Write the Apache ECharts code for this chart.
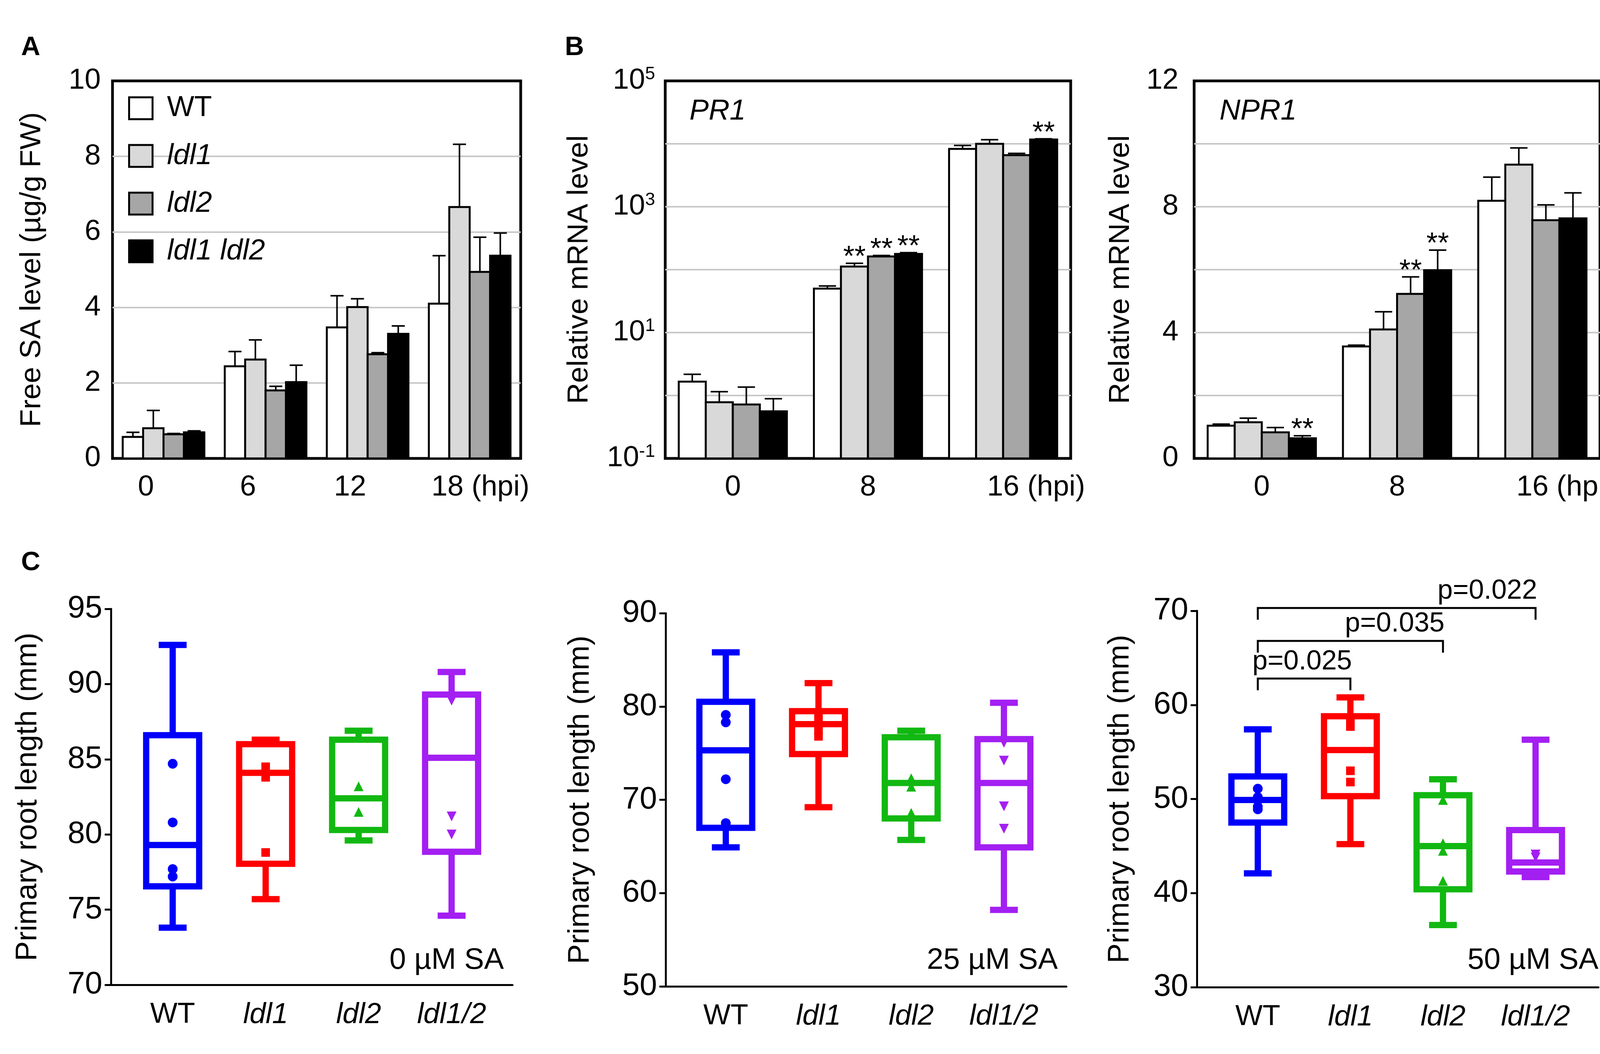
<!DOCTYPE html>
<html>
<head>
<meta charset="utf-8">
<script src="https://cdn.jsdelivr.net/npm/echarts@6/dist/echarts.min.js"></script>
<style>
html, body { margin: 0; padding: 0; background: #fff; }
#chart { width: 4202px; height: 2697px; }
</style>
</head>
<body>
<div id="chart"></div>
<script>
const FONT = "'Liberation Sans', Arial, sans-serif";

// ---- panel A / B data ----
const genotypes = ['WT', 'ldl1', 'ldl2', 'ldl1 ldl2'];
const fills = ['#ffffff', '#d9d9d9', '#a6a6a6', '#000000'];

const saHours = ['0', '6', '12', '18'];
const saMean = [
  [0.57, 2.44, 3.47, 4.10],
  [0.80, 2.62, 4.01, 6.66],
  [0.64, 1.80, 2.76, 4.94],
  [0.69, 2.02, 3.30, 5.37]
];
const saSd = [
  [0.12, 0.39, 0.84, 1.27],
  [0.47, 0.52, 0.22, 1.66],
  [0.02, 0.11, 0.04, 0.92],
  [0.04, 0.45, 0.21, 0.60]
];

const geneHours = ['0', '8', '16'];
const pr1Mean = [
  [1.66, 50, 8300],
  [0.78, 112, 10000],
  [0.72, 162, 6600],
  [0.56, 178, 11700]
];
const pr1Sd = [
  [0.51, 5, 1100],
  [0.37, 14, 1600],
  [0.64, 6, 450],
  [0.33, 8, 300]
];
const pr1Stars = [[0, 0, 0], [0, 1, 0], [0, 1, 0], [0, 1, 1]];

const npr1Mean = [
  [1.04, 3.56, 8.19],
  [1.15, 4.10, 9.34],
  [0.83, 5.23, 7.57],
  [0.64, 5.98, 7.63]
];
const npr1Sd = [
  [0.05, 0.04, 0.75],
  [0.13, 0.56, 0.53],
  [0.15, 0.54, 0.49],
  [0.08, 0.64, 0.81]
];
const npr1Stars = [[0, 0, 0], [0, 0, 0], [0, 1, 0], [1, 1, 0]];

// ---- panel C data: [min, q1, median, q3, max] ----
const lines = ['WT', 'ldl1', 'ldl2', 'ldl1/2'];
const boxColors = ['#0000fa', '#ff0000', '#12b812', '#a31ff2'];
const symbols = ['circle', 'rect', 'triangle', 'triangle'];

const box0 = [
  [73.8, 76.55, 79.3, 86.6, 92.6],
  [75.7, 78.05, 84.1, 86.0, 86.3],
  [79.6, 80.3, 82.4, 86.3, 86.9],
  [74.6, 78.85, 85.1, 89.3, 90.8]
];
const pts0 = [
  [84.7, 80.8, 77.7, 77.2],
  [84.5, 83.8, 78.8],
  [83.2, 81.5],
  [88.9, 81.2, 80.0]
];
const box25 = [
  [64.9, 67.0, 75.3, 80.5, 85.8],
  [69.2, 74.9, 78.1, 79.5, 82.5],
  [65.7, 68.0, 71.8, 76.7, 77.4],
  [58.2, 64.9, 71.8, 76.5, 80.4]
];
const pts25 = [
  [79.1, 78.3, 72.2, 67.5],
  [78.9, 77.4, 76.8],
  [72.3, 71.4, 68.6],
  [76.1, 74.2, 69.3, 66.9]
];
const box50 = [
  [42.1, 47.5, 49.9, 52.4, 57.4],
  [45.2, 50.3, 55.2, 58.8, 60.8],
  [36.6, 40.4, 45.0, 50.4, 52.1],
  [41.7, 42.3, 43.25, 46.7, 56.3]
];
const pts50 = [
  [51.1, 50.2, 49.2, 48.9],
  [58.2, 57.7, 53.0, 51.8],
  [49.9, 45.3, 44.5, 41.3],
  [44.1, 43.8]
];
const bracketFrom = [0, 0, 0];
const bracketTo = [1, 2, 3];
const bracketY = [62.8, 66.8, 70.3];
const pLabels = ['p=0.025', 'p=0.035', 'p=0.022'];

const chart = echarts.init(document.getElementById('chart'));

const txt = { fontSize: 74, fontFamily: FONT, color: '#000' };

function barSeries(gi, means, sds, stars) {
  return genotypes.map((g, s) => ({
    type: 'custom',
    name: g,
    xAxisIndex: gi,
    yAxisIndex: gi,
    itemStyle: { color: fills[s] },
    data: means[s].map((m, i) => [i, m, m + sds[s][i], stars ? stars[s][i] : 0]),
    renderItem: (params, api) => {
      const cat = api.value(0), m = api.value(1), top = api.value(2);
      const band = api.size([1, 0], [cat, m])[0];
      const bw = band * 0.8 / 4;
      const c = api.coord([cat, m]);
      const x0 = c[0] - band * 0.4 + bw * s;
      const base = params.coordSys.y + params.coordSys.height;
      const yt = api.coord([cat, top])[1];
      const cx = x0 + bw / 2;
      const children = [
        { type: 'rect', shape: { x: x0, y: c[1], width: bw, height: base - c[1] },
          style: { fill: fills[s], stroke: '#000', lineWidth: 5 } },
        { type: 'line', shape: { x1: cx, y1: c[1], x2: cx, y2: yt },
          style: { stroke: '#000', lineWidth: 4 } },
        { type: 'line', shape: { x1: cx - bw * 0.32, y1: yt, x2: cx + bw * 0.32, y2: yt },
          style: { stroke: '#000', lineWidth: 4 } }
      ];
      if (api.value(3)) {
        children.push({ type: 'text', x: cx, y: yt - 14,
          style: { text: '**', fontSize: 74, fontFamily: FONT, fill: '#000', align: 'center', verticalAlign: 'middle' } });
      }
      return { type: 'group', children };
    }
  }));
}

function boxSeries(gi, stats) {
  return {
    type: 'custom',
    xAxisIndex: gi,
    yAxisIndex: gi,
    encode: { x: 0, y: [1, 5] },
    data: stats.map((d, i) => [i].concat(d)),
    renderItem: (params, api) => {
      const i = api.value(0);
      const col = boxColors[i];
      const half = api.size([0.57, 0], [i, api.value(3)])[0] / 2;
      const capHalf = api.size([0.3, 0], [i, api.value(3)])[0] / 2;
      const cx = api.coord([i, api.value(3)])[0];
      const y = k => api.coord([i, api.value(k)])[1];
      const st = { stroke: col, lineWidth: 16, fill: 'none' };
      const ln = (x1, y1, x2, y2) => ({ type: 'line', shape: { x1, y1, x2, y2 }, style: st });
      return { type: 'group', children: [
        ln(cx, y(4), cx, y(5)),
        ln(cx, y(2), cx, y(1)),
        ln(cx - capHalf, y(5), cx + capHalf, y(5)),
        ln(cx - capHalf, y(1), cx + capHalf, y(1)),
        { type: 'rect', shape: { x: cx - half, y: y(4), width: half * 2, height: y(2) - y(4) }, style: st },
        ln(cx - half, y(3), cx + half, y(3))
      ] };
    }
  };
}

function pointSeries(gi, pts) {
  return pts.map((arr, i) => ({
    type: 'scatter',
    name: 'pts-' + lines[i],
    xAxisIndex: gi,
    yAxisIndex: gi,
    symbol: symbols[i],
    symbolRotate: i === 3 ? 180 : 0,
    symbolSize: i === 1 ? 22 : 25,
    itemStyle: { color: boxColors[i], opacity: 1 },
    z: 5,
    data: arr.map(v => [i, v])
  }));
}

const bracketSeries = {
  type: 'custom',
  xAxisIndex: 5,
  yAxisIndex: 5,
  encode: { x: [0, 1], y: 2 },
  data: bracketFrom.map((f, k) => [f, bracketTo[k], bracketY[k], k]),
  renderItem: (params, api) => {
    const a = api.coord([api.value(0), api.value(2)]);
    const b = api.coord([api.value(1), api.value(2)]);
    const drop = 30;
    return { type: 'group', children: [
      { type: 'polyline', shape: { points: [[a[0], a[1] + drop], a, b, [b[0], b[1] + drop]] },
        style: { stroke: '#000', lineWidth: 5, fill: 'none' } },
      { type: 'text', x: b[0] + 4, y: a[1] - 8,
        style: { text: pLabels[api.value(3)], fontSize: 70, fontFamily: FONT, fill: '#000', align: 'right', verticalAlign: 'bottom' } }
    ] };
  }
};

const gridLine = { show: true, lineStyle: { color: '#c8c8c8', width: 4 }, showMinLine: false, showMaxLine: false };

function catAxis(gi, cats, shiftN, shiftL) {
  const last = cats.length - 1;
  return {
    type: 'category', gridIndex: gi, data: cats,
    axisLine: { show: false }, axisTick: { show: false },
    axisLabel: {
      interval: 0, margin: 38, color: '#000',
      formatter: (v, idx) => idx === last ? '{l|' + v + ' (hpi)}' : '{n|' + v + '}',
      rich: {
        n: { fontSize: 74, fontFamily: FONT, color: '#000', padding: [0, shiftN, 0, 0] },
        l: { fontSize: 74, fontFamily: FONT, color: '#000', padding: [0, 0, 0, shiftL] }
      }
    }
  };
}

function boxXAxis(gi, min, max) {
  return {
    type: 'value', gridIndex: gi, min, max,
    axisLine: { show: true, onZero: false, lineStyle: { color: '#000', width: 5 } },
    axisTick: { show: false }, splitLine: { show: false },
    axisLabel: {
      customValues: [0, 1, 2, 3], margin: 40, color: '#000',
      formatter: v => {
        const i = Math.round(v);
        return i === 0 ? '{r|' + lines[i] + '}' : '{i|' + lines[i] + '}';
      },
      rich: {
        r: { fontSize: 74, fontFamily: FONT, color: '#000' },
        i: { fontSize: 74, fontFamily: FONT, color: '#000', fontStyle: 'italic' }
      }
    }
  };
}

function boxYAxis(gi, min, max, interval, gap) {
  return {
    type: 'value', gridIndex: gi, min, max, interval,
    axisLine: { show: true, onZero: false, lineStyle: { color: '#000', width: 5 } },
    axisTick: { show: true, length: 16, lineStyle: { color: '#000', width: 5 } },
    splitLine: { show: false },
    axisLabel: Object.assign({ margin: 22 }, txt, { fontSize: 80 }),
    name: 'Primary root length (mm)', nameLocation: 'middle', nameGap: gap,
    nameTextStyle: Object.assign({}, txt, { fontSize: 76 })
  };
}

const frame = { show: true, borderColor: '#000', borderWidth: 7, outerBoundsMode: 'none' };

const option = {
  backgroundColor: '#fff',
  animation: false,
  textStyle: { fontFamily: FONT },
  grid: [
    Object.assign({ left: 288, top: 207, width: 1045, height: 966 }, frame),
    Object.assign({ left: 1703, top: 207, width: 1038, height: 966 }, frame),
    Object.assign({ left: 3057, top: 207, width: 1039, height: 966 }, frame),
    { left: 284, top: 1558, width: 1028, height: 962, outerBoundsMode: 'none' },
    { left: 1704, top: 1569, width: 1026, height: 955, outerBoundsMode: 'none' },
    { left: 3064, top: 1563, width: 1028, height: 963, outerBoundsMode: 'none' }
  ],
  xAxis: [
    catAxis(0, saHours, 90, 55),
    catAxis(1, geneHours, 0, 169),
    catAxis(2, geneHours, 0, 169),
    boxXAxis(3, -0.664, 3.655),
    boxXAxis(4, -0.649, 3.674),
    boxXAxis(5, -0.658, 3.679)
  ],
  yAxis: [
    {
      type: 'value', gridIndex: 0, min: 0, max: 10, interval: 2,
      axisLine: { show: false }, axisTick: { show: false }, splitLine: gridLine,
      axisLabel: Object.assign({ margin: 30 }, txt),
      name: 'Free SA level (µg/g FW)', nameLocation: 'middle', nameGap: 168,
      nameTextStyle: Object.assign({}, txt, { fontSize: 75 })
    },
    {
      type: 'log', logBase: 10, gridIndex: 1, min: 0.1, max: 100000,
      axisLine: { show: false }, axisTick: { show: false }, splitLine: gridLine,
      axisLabel: {
        margin: 26,
        formatter: v => {
          const e = Math.round(Math.log10(v));
          return (((e % 2) + 2) % 2 === 1) ? '{b|10}{s|' + e + '}' : '';
        },
        rich: {
          b: { fontSize: 74, fontFamily: FONT, color: '#000', lineHeight: 80 },
          s: { fontSize: 46, fontFamily: FONT, color: '#000', verticalAlign: 'top', lineHeight: 46 }
        }
      },
      name: 'Relative mRNA level', nameLocation: 'middle', nameGap: 182,
      nameTextStyle: Object.assign({}, txt, { fontSize: 75 })
    },
    {
      type: 'value', gridIndex: 2, min: 0, max: 12, interval: 2,
      axisLine: { show: false }, axisTick: { show: false }, splitLine: gridLine,
      axisLabel: Object.assign({ margin: 40, formatter: v => (v % 4 === 0 ? String(v) : '') }, txt),
      name: 'Relative mRNA level', nameLocation: 'middle', nameGap: 150,
      nameTextStyle: Object.assign({}, txt, { fontSize: 75 })
    },
    boxYAxis(3, 70, 95, 5, 174),
    boxYAxis(4, 50, 90, 10, 180),
    boxYAxis(5, 30, 70, 10, 158)
  ],
  legend: {
    orient: 'vertical', left: 323, top: 235,
    itemWidth: 60, itemHeight: 56, itemGap: 48,
    icon: 'rect', selectedMode: false,
    data: genotypes.map((g, s) => ({ name: g, itemStyle: { color: fills[s], borderColor: '#000', borderWidth: 5 } })),
    formatter: n => (n === 'WT' ? '{w|WT}' : '{i|' + n + '}'),
    textStyle: {
      fontSize: 74, fontFamily: FONT, color: '#000',
      rich: {
        w: { fontSize: 74, fontFamily: FONT, color: '#000', padding: [0, 0, 0, 32], lineHeight: 74 },
        i: { fontSize: 74, fontFamily: FONT, color: '#000', fontStyle: 'italic', padding: [0, 0, 0, 32], lineHeight: 74 }
      }
    }
  },
  graphic: [
    { type: 'text', left: 54, top: 88, style: { text: 'A', fontSize: 68, fontWeight: 'bold', fontFamily: FONT, fill: '#000' } },
    { type: 'text', left: 1446, top: 88, style: { text: 'B', fontSize: 68, fontWeight: 'bold', fontFamily: FONT, fill: '#000' } },
    { type: 'text', left: 54, top: 1406, style: { text: 'C', fontSize: 68, fontWeight: 'bold', fontFamily: FONT, fill: '#000' } },
    { type: 'text', left: 1765, top: 248, style: { text: 'PR1', fontSize: 74, fontStyle: 'italic', fontFamily: FONT, fill: '#000' } },
    { type: 'text', left: 3122, top: 248, style: { text: 'NPR1', fontSize: 74, fontStyle: 'italic', fontFamily: FONT, fill: '#000' } },
    { type: 'text', right: 4202 - 1290, top: 2420, style: { text: '0 µM SA', fontSize: 76, fontFamily: FONT, fill: '#000' } },
    { type: 'text', right: 4202 - 2708, top: 2420, style: { text: '25 µM SA', fontSize: 76, fontFamily: FONT, fill: '#000' } },
    { type: 'text', right: 4202 - 4092, top: 2420, style: { text: '50 µM SA', fontSize: 76, fontFamily: FONT, fill: '#000' } }
  ],
  series: [].concat(
    barSeries(0, saMean, saSd, null),
    barSeries(1, pr1Mean, pr1Sd, pr1Stars),
    barSeries(2, npr1Mean, npr1Sd, npr1Stars),
    [boxSeries(3, box0), boxSeries(4, box25), boxSeries(5, box50)],
    pointSeries(3, pts0),
    pointSeries(4, pts25),
    pointSeries(5, pts50),
    [bracketSeries]
  )
};

chart.setOption(option);
</script>
</body>
</html>
